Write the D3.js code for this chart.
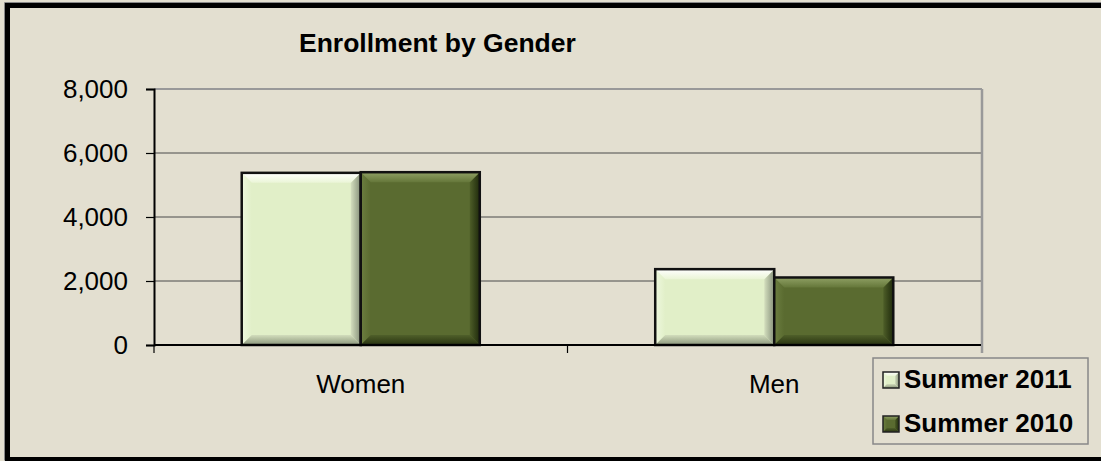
<!DOCTYPE html>
<html><head><meta charset="utf-8">
<script src="https://cdn.jsdelivr.net/npm/d3@7"></script>
<style>
html,body{margin:0;padding:0;background:#e3dfd0;overflow:hidden;}
svg{display:block;font-family:"Liberation Sans",Arial,sans-serif;}
</style></head>
<body>
<svg id="chart" width="1101" height="461"></svg>
<script>
const categories = ["Women", "Men"];
const seriesNames = ["Summer 2011", "Summer 2010"];
const summer2011 = [5380, 2370];
const summer2010 = [5400, 2110];
const yTicks = [0, 2000, 4000, 6000, 8000];
const title = "Enrollment by Gender";

const seriesValues = [summer2011, summer2010];
const styles = [
  {main:"#e1efc8", top:["#ffffff","#eaf5d6"], left:["#eef8de","#e1efc8"], right:["#86907a","#d4dfbe"], bottom:["#8a957a","#d2ddbc"]},
  {main:"#5a6b30", top:["#8fa064","#65773a"], left:["#6c7e40","#5a6b30"], right:["#1f2a0c","#4e5e28"], bottom:["#28330f","#4f5f2a"]}
];

const svg = d3.select("#chart");
const W = 1101, H = 461;
const plot = {left:154, right:981, top:89, bottom:345};

const defs = svg.append("defs");
const mkGrad = (id, dir, c) => {
  const v = {top:[0,0,0,1], bottom:[0,1,0,0], left:[0,0,1,0], right:[1,0,0,0]}[dir];
  const g = defs.append("linearGradient").attr("id", id)
    .attr("x1", v[0]).attr("y1", v[1]).attr("x2", v[2]).attr("y2", v[3]);
  g.append("stop").attr("offset", 0).attr("stop-color", c[0]);
  g.append("stop").attr("offset", 1).attr("stop-color", c[1]);
};
styles.forEach((st, i) => ["top","left","right","bottom"].forEach(d => mkGrad(`g${i}${d}`, d, st[d])));

svg.append("rect").attr("x",0).attr("y",0).attr("width",W).attr("height",H).attr("fill","#e3dfd0");
// outer frame (top, left, bottom only; right edge is beyond the picture)
svg.append("path").attr("d", `M${W+10},2.5 H4.5 V${H-0.5}`).attr("fill","none").attr("stroke","#888").attr("stroke-width",1);
svg.append("path").attr("d", `M${W+10},5.5 H7.5 V${H-1.5} H${W+10}`).attr("fill","none").attr("stroke","#000").attr("stroke-width",5);

const y = d3.scaleLinear().domain([0, 8000]).range([plot.bottom, plot.top]);
const x0 = d3.scaleBand().domain(categories).range([plot.left, plot.right]).padding(0);
const x1 = d3.scaleBand().domain(seriesNames).range([0, x0.bandwidth()]).paddingInner(0).paddingOuter(0.737);

// gridlines
svg.append("g").selectAll("line").data(yTicks.filter(t => t > 0 && t < 8000)).join("line")
  .attr("x1", plot.left).attr("x2", plot.right)
  .attr("y1", d => y(d)).attr("y2", d => y(d))
  .attr("stroke", "#4a4a4a").attr("stroke-width", 1);

// plot area top & right border (gray)
svg.append("line").attr("x1",plot.left).attr("x2",plot.right+1).attr("y1",y(8000)).attr("y2",y(8000))
  .attr("stroke","#999").attr("stroke-width",2);
svg.append("line").attr("x1",plot.right+1).attr("x2",plot.right+1).attr("y1",y(8000)).attr("y2",plot.bottom+8)
  .attr("stroke","#999").attr("stroke-width",2.5);

// y axis
const yAxis = d3.axisLeft(y).tickValues(yTicks).tickFormat(d3.format(",")).tickSize(8).tickPadding(18);
const gy = svg.append("g").attr("transform", `translate(${plot.left},0)`).call(yAxis);
gy.select(".domain").attr("stroke","#000").attr("stroke-width",2);
gy.selectAll(".tick line").attr("stroke","#000").attr("stroke-width",1.2);
gy.selectAll(".tick text").attr("font-size",26).attr("fill","#000")
  .attr("font-family","'Liberation Sans',Arial,sans-serif");

// bars
const bevel = 10;
categories.forEach((cat, ci) => {
  seriesNames.forEach((s, si) => {
    const v = seriesValues[si][ci];
    const bx = x0(cat) + x1(s), bw = x1.bandwidth();
    const by = y(v), bh = y(0) - y(v);
    const st = styles[si];
    const g = svg.append("g");
    g.append("rect").attr("x",bx).attr("y",by).attr("width",bw).attr("height",bh).attr("fill",st.main);
    const b = bevel;
    const x2 = bx + bw, y2 = by + bh;
    const poly = (pts, c) => g.append("polygon").attr("points", pts.map(p=>p.join(",")).join(" ")).attr("fill", c);
    poly([[bx,by],[bx+b,by+b],[bx+b,y2-b],[bx,y2]], `url(#g${si}left)`);
    poly([[x2,by],[x2,y2],[x2-b,y2-b],[x2-b,by+b]], `url(#g${si}right)`);
    poly([[bx,y2],[bx+b,y2-b],[x2-b,y2-b],[x2,y2]], `url(#g${si}bottom)`);
    poly([[bx,by],[x2,by],[x2-b,by+b],[bx+b,by+b]], `url(#g${si}top)`);
    g.append("rect").attr("x",bx).attr("y",by).attr("width",bw).attr("height",bh)
      .attr("fill","none").attr("stroke","#111").attr("stroke-width",2.5);
  });
});

// x axis
svg.append("line").attr("x1",plot.left).attr("x2",plot.right).attr("y1",y(0)).attr("y2",y(0))
  .attr("stroke","#000").attr("stroke-width",2);
const xTickPos = categories.map(c => x0(c)).concat([x0(categories[categories.length-1]) + x0.bandwidth()]);
svg.append("g").selectAll("line").data(xTickPos.slice(0, -1)).join("line")
  .attr("x1", d => d).attr("x2", d => d).attr("y1", y(0)).attr("y2", y(0)+8)
  .attr("stroke","#000").attr("stroke-width",1.2);
svg.append("g").selectAll("text").data(categories).join("text")
  .attr("x", d => x0(d) + x0.bandwidth()/2).attr("y", 393)
  .attr("text-anchor","middle").attr("font-size",26).attr("fill","#000").text(d => d);

// title
svg.append("text").attr("x",299).attr("y",52).attr("font-size",26.5).attr("font-weight","bold")
  .attr("fill","#000").text(title);

// legend
const lg = svg.append("g");
lg.append("rect").attr("x",873).attr("y",358).attr("width",215).attr("height",86)
  .attr("fill","#e3dfd0").attr("stroke","#888").attr("stroke-width",1.5);
seriesNames.forEach((s, i) => {
  const ly = 388 + i*44;
  const sx = 883, sy = ly - 16, ss = 16, b = 4;
  const poly = (pts, c) => lg.append("polygon").attr("points", pts.map(p=>p.join(",")).join(" ")).attr("fill", c);
  lg.append("rect").attr("x",sx).attr("y",sy).attr("width",ss).attr("height",ss).attr("fill",styles[i].main);
  poly([[sx,sy],[sx+b,sy+b],[sx+b,sy+ss-b],[sx,sy+ss]], `url(#g${i}left)`);
  poly([[sx+ss,sy],[sx+ss,sy+ss],[sx+ss-b,sy+ss-b],[sx+ss-b,sy+b]], `url(#g${i}right)`);
  poly([[sx,sy+ss],[sx+b,sy+ss-b],[sx+ss-b,sy+ss-b],[sx+ss,sy+ss]], `url(#g${i}bottom)`);
  poly([[sx,sy],[sx+ss,sy],[sx+ss-b,sy+b],[sx+b,sy+b]], `url(#g${i}top)`);
  lg.append("rect").attr("x",sx).attr("y",sy).attr("width",ss).attr("height",ss)
    .attr("fill","none").attr("stroke","#222").attr("stroke-width",1.5);
  lg.append("text").attr("x",904).attr("y",ly).attr("font-size",26).attr("font-weight","bold")
    .attr("fill","#000").text(s);
});
</script>
</body></html>
